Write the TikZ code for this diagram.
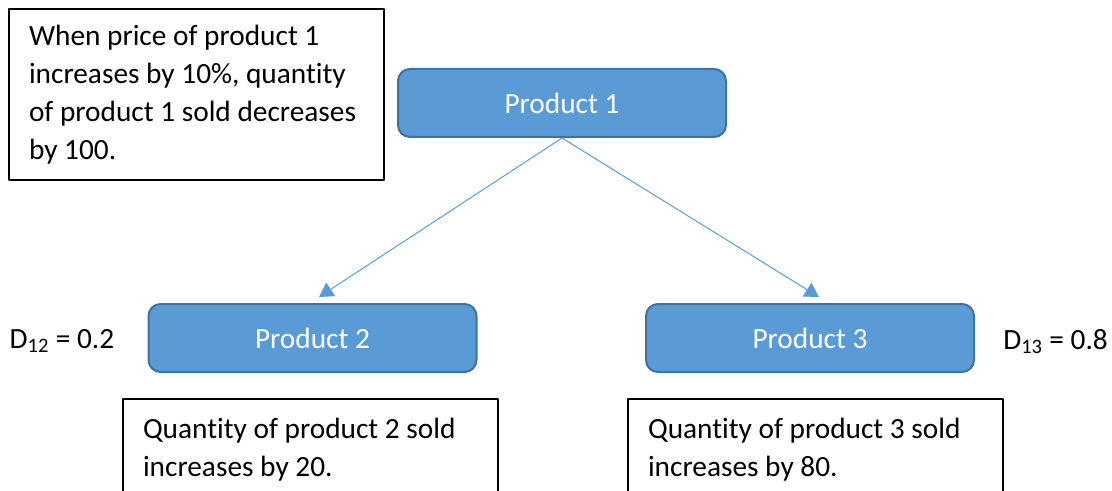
\documentclass[tikz,border=0pt]{standalone}
\usepackage{fontspec}
\setmainfont{Carlito}[Ligatures=NoCommon]
\usetikzlibrary{positioning,arrows.meta}
\definecolor{boxblue}{HTML}{5B9BD5}
\definecolor{boxedge}{HTML}{41719C}

\begin{document}
\begin{tikzpicture}[x=0.75pt, y=-0.75pt, line join=round,
    every node/.style={font=\fontsize{22}{28.5}\selectfont},
    product/.style={draw=boxedge, line width=1.5pt, fill=boxblue, text=white,
        rounded corners=9pt, minimum width=246pt, minimum height=51pt},
    note/.style={draw=black, line width=1.2pt, align=flush left, inner xsep=15pt,
        text width=251.25pt},
    link/.style={draw=boxblue, line width=0.75pt, -{Triangle[length=10.5pt,width=12pt]}},
    coef/.style={inner sep=0pt, yshift=-2.5pt}]

    % 1. page frame
    \clip (0,0) rectangle (1112,491);

    % 2. boxes of the three products
    \node[product] (p1) at (562,103) {Product 1};
    \node[product] (p2) at (312.5,338) {Product 2};
    \node[product] (p3) at (810,338) {Product 3};

    % 3. notes
    \node[note, minimum height=128.25pt] (n1) at (196.5,94.5)
        {When price of product 1\\increases by 10\%, quantity\\of product 1 sold decreases\\by 100.};
    \node[note, minimum height=76pt, anchor=north] (n2) at (310.5,398)
        {Quantity of product 2 sold\\increases by 20.};
    \node[note, minimum height=76pt, anchor=north] (n3) at (815.5,398)
        {Quantity of product 3 sold\\increases by 80.};

    % 4. coefficients
    \node[coef, left=24.75pt of p2] (d12) {D\textsubscript{12} = 0.2};
    \node[coef, right=21pt of p3] (d13) {D\textsubscript{13} = 0.8};

    % 5. arrows
    \coordinate (t2) at (319,297);
    \coordinate (t3) at (819,297);
    \draw[link] (p1.south) -- (t2);
    \draw[link] (p1.south) -- (t3);

\end{tikzpicture}
\end{document}
